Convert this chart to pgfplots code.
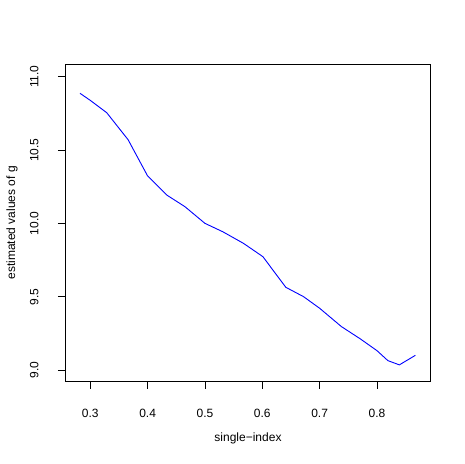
\documentclass[border=0pt]{standalone}
\usepackage{pgfplots}
\pgfplotsset{compat=1.18}
\usepackage{fontspec}
\setmainfont{Liberation Sans}
\definecolor{rblue}{HTML}{0000FF}

\begin{document}
\fontsize{12bp}{14bp}\selectfont
\begin{tikzpicture}
\path[use as bounding box] (-65.3bp,-83bp) rectangle (399.7bp,381bp);
\begin{axis}[
    at={(0,0)}, anchor=south west,
    scale only axis,
    width=365.4bp, height=316.3bp,
    xmin=0.2564, xmax=0.8937,
    ymin=8.925, ymax=11.082,
    xtick={0.3,0.4,0.5,0.6,0.7,0.8},
    ytick={9.0,9.5,10.0,10.5,11.0},
    xticklabels={0.3,0.4,0.5,0.6,0.7,0.8},
    yticklabels={9.0,9.5,10.0,10.5,11.0},
    xtick pos=bottom, ytick pos=left,
    tick align=outside,
    major tick length=7.5bp,
    tick style={black, line width=0.8bp},
    axis line style={line width=0.8bp},
    xticklabel style={anchor=center, yshift=-24.5bp},
    yticklabel style={rotate=90, anchor=center, yshift=23.6bp},
    xlabel={single−index},
    ylabel={estimated values of g},
    xlabel style={at={(axis description cs:0.5,-0.180)}, anchor=center},
    ylabel style={at={(axis description cs:-0.1459,0.5)}, anchor=center, rotate=0},
    /pgf/number format/assume math mode=true,
]
\addplot[rblue, line width=0.9bp] coordinates {
    (0.282,10.887) (0.2995,10.840) (0.3286,10.755) (0.366,10.570)
    (0.400,10.323) (0.433,10.194) (0.465,10.114) (0.500,10.000)
    (0.531,9.943) (0.567,9.864) (0.601,9.773) (0.641,9.564)
    (0.672,9.500) (0.700,9.421) (0.738,9.296) (0.771,9.212)
    (0.800,9.132) (0.819,9.064) (0.839,9.035) (0.867,9.100)
};
\end{axis}
\end{tikzpicture}
\end{document}
